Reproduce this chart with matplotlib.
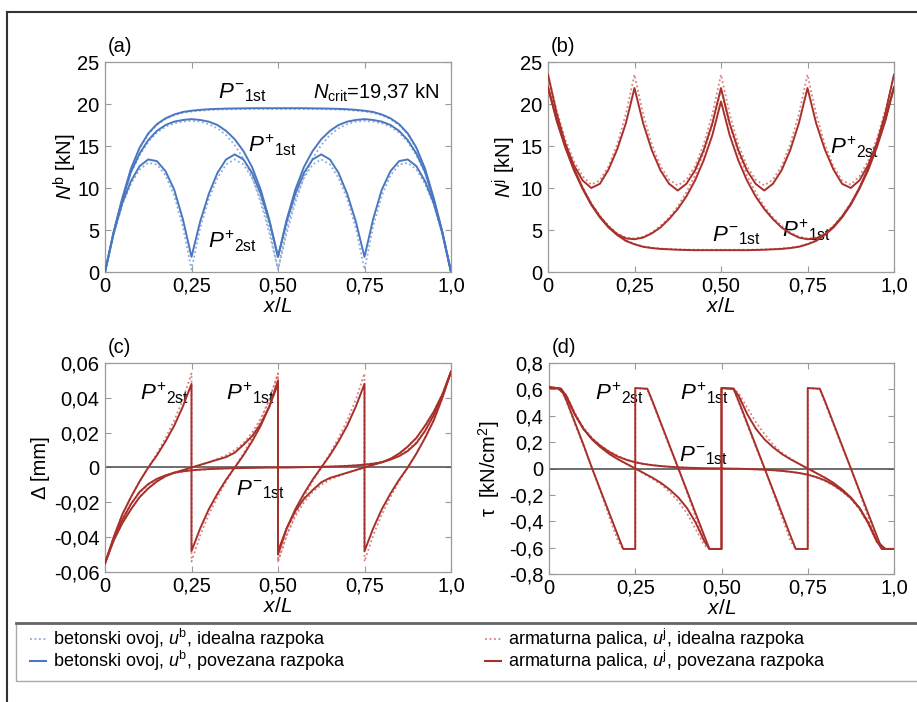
import matplotlib
matplotlib.use('Agg')
import matplotlib.pyplot as plt
from matplotlib.lines import Line2D
from matplotlib.patches import Rectangle

plt.rcParams['font.family'] = ['Liberation Sans', 'DejaVu Sans']
plt.rcParams['mathtext.fontset'] = 'custom'
plt.rcParams['mathtext.rm'] = 'Liberation Sans'
plt.rcParams['mathtext.it'] = 'Liberation Sans:italic'
plt.rcParams['mathtext.bf'] = 'Liberation Sans:bold'

# ---------------- x grids (x/L) ----------------
X41 = [i * 0.025 for i in range(41)]
X_QUARTER = [q * 0.25 + i * 0.025 for q in range(4) for i in range(11)]
X_HALF = [h * 0.5 + i * 0.025 for h in range(2) for i in range(21)]
TAU_Q_SEG = [0, 0.035, 0.05, 0.075, 0.1, 0.125, 0.15, 0.175, 0.2, 0.215, 0.25]
TAU_H_SEG = [0, 0.035, 0.05, 0.075, 0.1, 0.125, 0.15, 0.175, 0.2, 0.225, 0.25,
             0.275, 0.3, 0.325, 0.35, 0.375, 0.4, 0.425, 0.45, 0.465, 0.5]
X_TAU_Q = [q * 0.25 + t for q in range(4) for t in TAU_Q_SEG]
X_TAU_H = [h * 0.5 + t for h in range(2) for t in TAU_H_SEG]

# ---------------- (a) N^b [kN] ----------------
NB_M1_SOLID = [0, 4.8, 8.8, 12.3, 14.8, 16.5, 17.6, 18.3, 18.75, 19.05, 19.2, 19.3, 19.38, 19.42,
               19.45, 19.47, 19.48, 19.5, 19.5, 19.5, 19.5, 19.5, 19.5, 19.5, 19.48, 19.47, 19.45,
               19.42, 19.38, 19.3, 19.2, 19.05, 18.75, 18.3, 17.6, 16.5, 14.8, 12.3, 8.8, 4.8, 0]
NB_M1_IDEAL = [0, 4.7, 8.7, 12.2, 14.7, 16.4, 17.5, 18.2, 18.65, 18.95, 19.1, 19.2, 19.28, 19.33,
               19.36, 19.38, 19.39, 19.4, 19.4, 19.4, 19.4, 19.4, 19.4, 19.4, 19.39, 19.38, 19.36,
               19.33, 19.28, 19.2, 19.1, 18.95, 18.65, 18.2, 17.5, 16.4, 14.7, 12.2, 8.7, 4.7, 0]
NB_P1_SOLID = [0, 4.7, 8.6, 11.9, 14.1, 15.7, 16.8, 17.5, 17.9, 18.1, 18.2, 18.1, 17.9, 17.5,
               16.8, 15.8, 14.4, 12.5, 9.8, 6.2, 1.8, 6.2, 9.8, 12.5, 14.4, 15.8, 16.8, 17.5, 17.9,
               18.1, 18.2, 18.1, 17.9, 17.5, 16.8, 15.7, 14.1, 11.9, 8.6, 4.7, 0]
NB_P1_IDEAL = [0, 4.6, 8.5, 11.8, 13.9, 15.5, 16.6, 17.3, 17.7, 17.9, 18.0, 17.9, 17.6, 17.1,
               16.3, 15.1, 13.5, 11.3, 8.3, 4.6, 0.3, 4.6, 8.3, 11.3, 13.5, 15.1, 16.3, 17.1, 17.6,
               17.9, 18.0, 17.9, 17.7, 17.3, 16.6, 15.5, 13.9, 11.8, 8.5, 4.6, 0]
NB_P2_SOLID = [0, 4.6, 8.2, 10.8, 12.6, 13.4, 13.2, 12.0, 9.8, 6.3, 1.8,
               6.0, 9.3, 11.8, 13.4, 14.0, 13.4, 11.8, 9.3, 6.0, 1.8,
               6.0, 9.3, 11.8, 13.4, 14.0, 13.4, 11.8, 9.3, 6.0, 1.8,
               6.3, 9.8, 12.0, 13.2, 13.4, 12.6, 10.8, 8.2, 4.6, 0]
NB_P2_IDEAL = [0, 4.5, 8.0, 10.5, 12.2, 13.0, 12.8, 11.5, 9.1, 5.4, 0.3,
               5.2, 8.7, 11.2, 12.8, 13.4, 12.8, 11.2, 8.7, 5.2, 0.3,
               5.2, 8.7, 11.2, 12.8, 13.4, 12.8, 11.2, 8.7, 5.2, 0.3,
               5.4, 9.1, 11.5, 12.8, 13.0, 12.2, 10.5, 8.0, 4.5, 0]

# ---------------- (b) N^j [kN] ----------------
NJ_M1_SOLID = [22.0, 18.0, 14.8, 12.1, 9.9, 8.0, 6.5, 5.3, 4.4, 3.7, 3.3, 3.0, 2.85, 2.75, 2.7,
               2.65, 2.62, 2.6, 2.6, 2.6, 2.6, 2.6, 2.6, 2.6, 2.62, 2.65, 2.7, 2.75, 2.85, 3.0,
               3.3, 3.7, 4.4, 5.3, 6.5, 8.0, 9.9, 12.1, 14.8, 18.0, 22.0]
NJ_M1_IDEAL = [22.0, 18.1, 14.9, 12.2, 10.0, 8.1, 6.6, 5.4, 4.5, 3.8, 3.35, 3.05, 2.9, 2.8, 2.75,
               2.7, 2.67, 2.65, 2.65, 2.65, 2.65, 2.65, 2.65, 2.65, 2.67, 2.7, 2.75, 2.8, 2.9, 3.05,
               3.35, 3.8, 4.5, 5.4, 6.6, 8.1, 10.0, 12.2, 14.9, 18.1, 22.0]
NJ_P1_SOLID = [22.0, 18.2, 15.0, 12.3, 10.0, 8.1, 6.6, 5.4, 4.5, 4.0, 3.9, 4.1, 4.6, 5.3, 6.3,
               7.5, 9.0, 10.9, 13.3, 16.3, 20.3, 16.3, 13.3, 10.9, 9.0, 7.5, 6.3, 5.3, 4.6, 4.1,
               3.9, 4.0, 4.5, 5.4, 6.6, 8.1, 10.0, 12.3, 15.0, 18.2, 22.0]
NJ_P1_IDEAL = [22.0, 18.3, 15.1, 12.4, 10.1, 8.2, 6.7, 5.5, 4.6, 4.1, 4.0, 4.2, 4.7, 5.5, 6.5,
               7.8, 9.5, 11.5, 14.2, 17.5, 21.7, 17.5, 14.2, 11.5, 9.5, 7.8, 6.5, 5.5, 4.7, 4.2,
               4.0, 4.1, 4.6, 5.5, 6.7, 8.2, 10.1, 12.4, 15.1, 18.3, 22.0]
NJ_P2_SOLID = [23.5, 18.9, 15.3, 12.7, 10.9, 10.0, 10.5, 12.2, 14.6, 17.7, 21.9,
               17.7, 14.5, 12.1, 10.5, 9.7, 10.5, 12.1, 14.5, 17.7, 21.9,
               17.7, 14.5, 12.1, 10.5, 9.7, 10.5, 12.1, 14.5, 17.7, 21.9,
               17.7, 14.6, 12.2, 10.5, 10.0, 10.9, 12.7, 15.3, 18.9, 23.5]
NJ_P2_IDEAL = [23.5, 19.3, 15.8, 13.2, 11.4, 10.4, 10.9, 12.6, 15.2, 18.8, 23.5,
               18.8, 15.2, 12.6, 11.0, 10.3, 11.0, 12.6, 15.2, 18.8, 23.5,
               18.8, 15.2, 12.6, 11.0, 10.3, 11.0, 12.6, 15.2, 18.8, 23.5,
               18.8, 15.2, 12.6, 10.9, 10.4, 11.4, 13.2, 15.8, 19.3, 23.5]

# ---------------- (c) slip Delta [mm] ----------------
D_M1_SOLID = [-0.055, -0.041, -0.030, -0.021, -0.014, -0.0095, -0.0065, -0.0045, -0.003, -0.0022,
              -0.0016, -0.0012, -0.0009, -0.0007, -0.0005, -0.0004, -0.0003, -0.0002, -0.0001, 0.0,
              0.0, 0.0, 0.0001, 0.0002, 0.0003, 0.0004, 0.0005, 0.0007, 0.0009, 0.0012, 0.0016,
              0.0022, 0.003, 0.0045, 0.0065, 0.0095, 0.014, 0.021, 0.030, 0.041, 0.055]
D_M1_IDEAL = [-0.055, -0.041, -0.030, -0.021, -0.0145, -0.010, -0.007, -0.0048, -0.0032, -0.0024,
              -0.0018, -0.0013, -0.001, -0.0008, -0.0006, -0.0004, -0.0003, -0.0002, -0.0001, 0.0,
              0.0, 0.0, 0.0001, 0.0002, 0.0003, 0.0004, 0.0006, 0.0008, 0.001, 0.0013, 0.0018,
              0.0024, 0.0032, 0.0048, 0.007, 0.010, 0.0145, 0.021, 0.030, 0.041, 0.055]
D_P1_SOLID = [-0.055, -0.042, -0.032, -0.024, -0.017, -0.012, -0.008, -0.005, -0.003, -0.0015,
              0.0, 0.0015, 0.003, 0.0045, 0.006, 0.0085, 0.013, 0.018, 0.025, 0.035, 0.050,
              -0.050, -0.035, -0.025, -0.018, -0.013, -0.0085, -0.006, -0.0045, -0.003, -0.0015,
              0.0, 0.0015, 0.003, 0.005, 0.008, 0.012, 0.017, 0.024, 0.032, 0.042, 0.055]
D_P1_IDEAL = [-0.055, -0.042, -0.032, -0.024, -0.017, -0.012, -0.008, -0.005, -0.003, -0.0015,
              0.0, 0.0015, 0.003, 0.005, 0.007, 0.010, 0.014, 0.020, 0.028, 0.039, 0.054,
              -0.054, -0.039, -0.028, -0.020, -0.014, -0.010, -0.007, -0.005, -0.003, -0.0015,
              0.0, 0.0015, 0.003, 0.005, 0.008, 0.012, 0.017, 0.024, 0.032, 0.042, 0.055]
D_P2_SOLID = [-0.055, -0.040, -0.027, -0.017, -0.008, 0.000, 0.007, 0.015, 0.024, 0.035, 0.048,
              -0.048, -0.035, -0.024, -0.015, -0.007, 0.000, 0.007, 0.015, 0.024, 0.035, 0.048,
              -0.048, -0.035, -0.024, -0.015, -0.007, 0.000, 0.007, 0.015, 0.024, 0.035, 0.048,
              -0.048, -0.035, -0.024, -0.015, -0.007, 0.000, 0.008, 0.017, 0.027, 0.040, 0.055]
D_P2_IDEAL = [-0.055, -0.040, -0.027, -0.017, -0.008, 0.000, 0.008, 0.017, 0.027, 0.039, 0.054,
              -0.054, -0.039, -0.027, -0.017, -0.008, 0.000, 0.008, 0.017, 0.027, 0.039, 0.054,
              -0.054, -0.039, -0.027, -0.017, -0.008, 0.000, 0.008, 0.017, 0.027, 0.039, 0.054,
              -0.054, -0.039, -0.027, -0.017, -0.008, 0.000, 0.008, 0.017, 0.027, 0.040, 0.055]

# ---------------- (d) bond stress tau [kN/cm2] ----------------
T_M1_SOLID = [0.61, 0.61, 0.55, 0.41, 0.30, 0.225, 0.17, 0.125, 0.09, 0.065, 0.047, 0.034, 0.025,
              0.018, 0.013, 0.009, 0.006, 0.004, 0.002, 0.001, 0.0, -0.001, -0.002, -0.004, -0.006,
              -0.009, -0.013, -0.018, -0.025, -0.034, -0.047, -0.065, -0.09, -0.125, -0.17, -0.225,
              -0.30, -0.41, -0.55, -0.61, -0.61]
T_M1_IDEAL = [0.61, 0.61, 0.56, 0.42, 0.31, 0.23, 0.175, 0.13, 0.095, 0.068, 0.049, 0.035, 0.026,
              0.019, 0.013, 0.009, 0.006, 0.004, 0.002, 0.001, 0.0, -0.001, -0.002, -0.004, -0.006,
              -0.009, -0.013, -0.019, -0.026, -0.035, -0.049, -0.068, -0.095, -0.13, -0.175, -0.23,
              -0.31, -0.42, -0.56, -0.61, -0.61]
T_P1_SOLID = [0.61, 0.605, 0.55, 0.41, 0.30, 0.22, 0.16, 0.11, 0.07, 0.035, 0.0, -0.035, -0.07,
              -0.11, -0.16, -0.22, -0.30, -0.41, -0.55, -0.61, -0.61,
              0.61, 0.605, 0.55, 0.41, 0.30, 0.22, 0.16, 0.11, 0.07, 0.035, 0.0, -0.035, -0.07,
              -0.11, -0.16, -0.22, -0.30, -0.41, -0.55, -0.61, -0.61]
T_P1_IDEAL = [0.61, 0.605, 0.55, 0.41, 0.30, 0.22, 0.16, 0.11, 0.07, 0.035, 0.0, -0.04, -0.08,
              -0.12, -0.18, -0.25, -0.34, -0.46, -0.58, -0.61, -0.61,
              0.61, 0.605, 0.57, 0.46, 0.35, 0.26, 0.18, 0.12, 0.075, 0.035, 0.0, -0.035, -0.07,
              -0.11, -0.16, -0.22, -0.30, -0.41, -0.55, -0.61, -0.61]
T_P2_SOLID = [0.62, 0.605, 0.52, 0.35, 0.18, 0.00, -0.17, -0.34, -0.51, -0.61, -0.61,
              0.61, 0.605, 0.51, 0.34, 0.17, 0.00, -0.17, -0.34, -0.51, -0.61, -0.61,
              0.61, 0.605, 0.51, 0.34, 0.17, 0.00, -0.17, -0.34, -0.51, -0.61, -0.61,
              0.61, 0.605, 0.51, 0.34, 0.17, 0.00, -0.17, -0.34, -0.51, -0.61, -0.61]
T_P2_IDEAL = [0.62, 0.60, 0.51, 0.34, 0.17, 0.00, -0.18, -0.37, -0.55, -0.61, -0.61,
              0.61, 0.60, 0.50, 0.33, 0.16, 0.00, -0.18, -0.37, -0.55, -0.61, -0.61,
              0.61, 0.60, 0.50, 0.33, 0.16, 0.00, -0.18, -0.37, -0.55, -0.61, -0.61,
              0.61, 0.60, 0.50, 0.33, 0.16, 0.00, -0.18, -0.37, -0.55, -0.61, -0.61]

# ---------------- text ----------------
X_TICKS = [0, 0.25, 0.5, 0.75, 1.0]
X_TICKLABELS = ['0', '0,25', '0,50', '0,75', '1,0']
YT_A = [0, 5, 10, 15, 20, 25]
YL_A = ['0', '5', '10', '15', '20', '25']
YT_C = [-0.06, -0.04, -0.02, 0, 0.02, 0.04, 0.06]
YL_C = ['-0,06', '-0,04', '-0,02', '0', '0,02', '0,04', '0,06']
YT_D = [-0.8, -0.6, -0.4, -0.2, 0, 0.2, 0.4, 0.6, 0.8]
YL_D = ['-0,8', '-0,6', '-0,4', '-0,2', '0', '0,2', '0,4', '0,6', '0,8']
LEG_B = [r'betonski ovoj, $u^{\mathrm{b}}$, idealna razpoka',
         r'betonski ovoj, $u^{\mathrm{b}}$, povezana razpoka']
LEG_J = [r'armaturna palica, $u^{\mathrm{j}}$, idealna razpoka',
         r'armaturna palica, $u^{\mathrm{j}}$, povezana razpoka']

BLUE = '#4a78c0'
BLUE_L = '#8eaad8'
RED = '#a8302a'
RED_L = '#d88080'
FRAME = '#9a9a9a'

W, H = 917, 702
fig = plt.figure(figsize=(W / 100, H / 100), dpi=100)


def add_axes(l, t, r, b):
    return fig.add_axes([l / W, 1 - b / H, (r - l) / W, (b - t) / H])


ax_a = add_axes(105, 62, 451, 272)
ax_b = add_axes(548, 62, 894, 272)
ax_c = add_axes(105, 363, 451, 572)
ax_d = add_axes(549, 363, 894, 574)


def style(ax, yt, yl, ylim, ylabel, ylab_x):
    ax.set_xlim(0, 1)
    ax.set_ylim(*ylim)
    ax.set_xticks(X_TICKS)
    ax.set_xticklabels(X_TICKLABELS)
    ax.set_yticks(yt)
    ax.set_yticklabels(yl)
    ax.tick_params(direction='in', top=True, right=True, length=4, width=0.8,
                   color=FRAME, labelsize=14.5)
    ax.tick_params(axis='y', pad=4)
    ax.tick_params(axis='x', pad=3.5)
    for s in ax.spines.values():
        s.set_color(FRAME)
        s.set_linewidth(0.9)
    ax.set_xlabel(r'$x/L$', fontsize=15, labelpad=1)
    ax.set_ylabel(ylabel, fontsize=14.5)
    ax.yaxis.set_label_coords(ylab_x, 0.5)


def curves(ax, pairs, c_ideal, c_solid):
    for x, yi, ys in pairs:
        ax.plot(x, yi, ls=(0, (1, 1.5)), lw=1.3, color=c_ideal, zorder=3)
    for x, yi, ys in pairs:
        ax.plot(x, ys, ls='-', lw=1.4, color=c_solid, zorder=4)


# (a)
curves(ax_a, [(X41, NB_M1_IDEAL, NB_M1_SOLID), (X41, NB_P1_IDEAL, NB_P1_SOLID),
              (X41, NB_P2_IDEAL, NB_P2_SOLID)], BLUE_L, BLUE)
style(ax_a, YT_A, YL_A, (0, 25), r'$N^{\mathrm{b}}$ [kN]', -0.075)
# (b)
curves(ax_b, [(X41, NJ_M1_IDEAL, NJ_M1_SOLID), (X41, NJ_P1_IDEAL, NJ_P1_SOLID),
              (X41, NJ_P2_IDEAL, NJ_P2_SOLID)], RED_L, RED)
style(ax_b, YT_A, YL_A, (0, 25), r'$N^{\mathrm{j}}$ [kN]', -0.088)
# (c)
ax_c.axhline(0, color='#555555', lw=1.2, zorder=2)
curves(ax_c, [(X41, D_M1_IDEAL, D_M1_SOLID), (X_HALF, D_P1_IDEAL, D_P1_SOLID),
              (X_QUARTER, D_P2_IDEAL, D_P2_SOLID)], RED_L, RED)
style(ax_c, YT_C, YL_C, (-0.06, 0.06), 'Δ [mm]', -0.158)
# (d)
ax_d.axhline(0, color='#555555', lw=1.2, zorder=2)
curves(ax_d, [(X41, T_M1_IDEAL, T_M1_SOLID), (X_TAU_H, T_P1_IDEAL, T_P1_SOLID),
              (X_TAU_Q, T_P2_IDEAL, T_P2_SOLID)], RED_L, RED)
style(ax_d, YT_D, YL_D, (-0.8, 0.8), r'τ  [kN/cm$^2$]', -0.136)

# panel letters
for ax, lab in [(ax_a, '(a)'), (ax_b, '(b)'), (ax_c, '(c)'), (ax_d, '(d)')]:
    ax.text(0.008, 1.03, lab, transform=ax.transAxes, fontsize=14.5, ha='left', va='bottom')

P_M1 = r'$P^{-}{}_{\mathrm{1st}}$'
P_P1 = r'$P^{+}{}_{\mathrm{1st}}$'
P_P2 = r'$P^{+}{}_{\mathrm{2st}}$'
fs = 16
ax_a.text(0.327, 21.4, P_M1, fontsize=fs, va='center')
ax_a.text(0.601, 21.3, r'$N_{\mathrm{crit}}$=19,37 kN', fontsize=14.5, va='center')
ax_a.text(0.413, 15.1, P_P1, fontsize=fs, va='center')
ax_a.text(0.298, 3.6, P_P2, fontsize=fs, va='center')
ax_b.text(0.815, 14.8, P_P2, fontsize=fs, va='center')
ax_b.text(0.676, 5.0, P_P1, fontsize=fs, va='center')
ax_b.text(0.474, 4.3, P_M1, fontsize=fs, va='center')
ax_c.text(0.101, 0.0428, P_P2, fontsize=fs, va='center')
ax_c.text(0.35, 0.0428, P_P1, fontsize=fs, va='center')
ax_c.text(0.379, -0.0129, P_M1, fontsize=fs, va='center')
ax_d.text(0.133, 0.572, P_P2, fontsize=fs, va='center')
ax_d.text(0.38, 0.572, P_P1, fontsize=fs, va='center')
ax_d.text(0.377, 0.10, P_M1, fontsize=fs, va='center')

# outer frame lines
fig.add_artist(Line2D([7 / W, 1], [1 - 12 / H, 1 - 12 / H], transform=fig.transFigure,
                      color='#333333', lw=1.5))
fig.add_artist(Line2D([7 / W, 7 / W], [1 - 12 / H, 0], transform=fig.transFigure,
                      color='#333333', lw=1.5))

# legend box
fig.add_artist(Rectangle((16 / W, 1 - 681 / H), 1.0, (681 - 623) / H, transform=fig.transFigure,
                         fill=False, edgecolor='#aaaaaa', lw=1.0))
fig.add_artist(Line2D([16 / W, 1], [1 - 623 / H, 1 - 623 / H], transform=fig.transFigure,
                      color='#666666', lw=2.0))

leg_prop = {'family': ['Liberation Sans Narrow', 'Liberation Sans'], 'size': 13}
hb = [Line2D([], [], color=BLUE_L, ls=(0, (1, 1.5)), lw=1.3), Line2D([], [], color=BLUE, lw=1.5)]
hj = [Line2D([], [], color=RED_L, ls=(0, (1, 1.5)), lw=1.3), Line2D([], [], color=RED, lw=1.5)]
l1 = fig.legend(hb, LEG_B, loc='upper left', bbox_to_anchor=(30 / W, 1 - 627 / H), frameon=False,
                prop=leg_prop, handlelength=0.9, handletextpad=0.4, labelspacing=-0.1,
                borderpad=0, borderaxespad=0)
l2 = fig.legend(hj, LEG_J, loc='upper left', bbox_to_anchor=(485 / W, 1 - 627 / H), frameon=False,
                prop=leg_prop, handlelength=0.9, handletextpad=0.4, labelspacing=-0.1,
                borderpad=0, borderaxespad=0)

fig.savefig('out.png', dpi=100)
